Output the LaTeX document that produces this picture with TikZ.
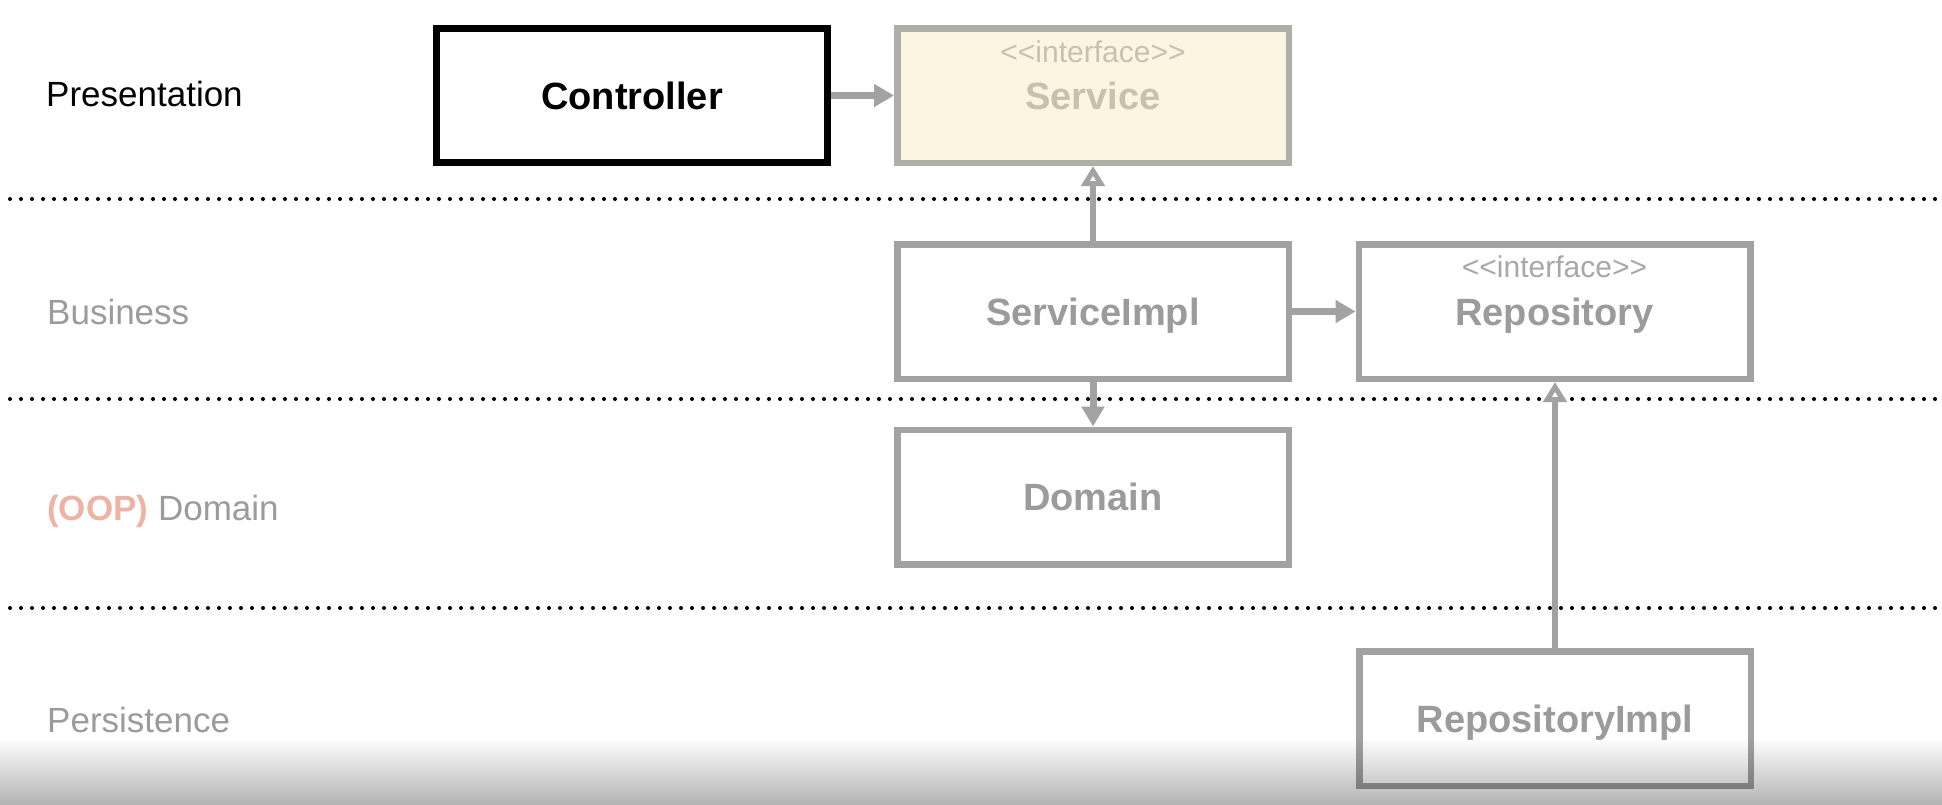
\documentclass[tikz,border=0pt]{standalone}
\usepackage{fontspec}
\setmainfont{Liberation Sans}
\usetikzlibrary{arrows.meta}

\definecolor{boxgray}{HTML}{A2A2A2}
\definecolor{txtgray}{HTML}{9B9B9B}
\definecolor{ifgray}{HTML}{A8A8A8}
\definecolor{svcfill}{HTML}{FCF5E2}
\definecolor{svcline}{HTML}{B0AEA8}
\definecolor{svctext}{HTML}{C8C1AE}
\definecolor{svcif}{HTML}{C6C1B3}
\definecolor{oop}{HTML}{EBB4A6}
\definecolor{fadegray}{HTML}{B4B4B4}

\tikzset{
  box/.style={draw=boxgray, fill=white, line width=6.5pt,
    minimum width=391.5pt, minimum height=134.5pt, inner sep=0pt,
    text=txtgray, text height=27pt, text depth=0pt,
    font=\fontsize{38}{40}\selectfont\bfseries},
  ifacelabel/.style={inner sep=0pt, text=ifgray,
    font=\fontsize{30}{32}\selectfont},
  layerlabel/.style={inner sep=0pt, anchor=base west, text=txtgray,
    font=\fontsize{35}{38}\selectfont},
  sepline/.style={line width=4pt, line cap=round,
    dash pattern=on 0pt off 11pt, black},
  usesarrow/.style={draw=boxgray, line width=7pt,
    -{Triangle[length=20pt, width=22pt]}},
  implarrow/.style={draw=boxgray, line width=5.5pt,
    -{Triangle[open, length=20pt, width=23pt, line width=5pt]}},
}

\begin{document}
\begin{tikzpicture}[x=1pt, y=-1pt]
  \useasboundingbox (0,0) rectangle (1942,804);
  \fill[white] (0,0) rectangle (1942,804);

  % layer separators
  \draw[sepline] (10,199) -- (1942,199);
  \draw[sepline] (10,399) -- (1942,399);
  \draw[sepline] (10,608) -- (1942,608);

  % layer names
  \node[layerlabel, text=black] (lpres) at (46,106.5) {Presentation};
  \node[layerlabel] (lbus) at (47,324.5) {Business};
  \node[layerlabel] (ldom) at (47,520.5)
    {{\bfseries\color{oop}(OOP)} Domain};
  \node[layerlabel] (lper) at (47,732.5) {Persistence};

  % components
  \node[box, draw=black, line width=7pt, text=black,
        minimum width=391pt, minimum height=134pt] (ctrl) at (632,95.5) {Controller};
  \node[box, fill=svcfill, draw=svcline, text=svctext] (svc) at (1093,95.5) {Service};
  \node[ifacelabel, text=svcif] (svcif) at ([yshift=-27pt]svc.north)
    {<\kern0pt<interface>\kern0pt>};

  \node[box] (svcimpl) at (1093,311.5) {ServiceImpl};
  \node[box] (repo) at (1554.5,311.5) {Repository};
  \node[ifacelabel] (repoif) at ([yshift=-26pt]repo.north)
    {<\kern0pt<interface>\kern0pt>};

  \node[box] (dom) at (1093,497) {Domain};
  \node[box] (repoimpl) at (1555,718.5) {RepositoryImpl};

  % dependencies
  \draw[usesarrow] (ctrl.east) -- (svc.west);
  \draw[usesarrow] (svcimpl.east) -- (repo.west);
  \draw[usesarrow] (svcimpl.south) -- (dom.north);

  % realisations
  \draw[implarrow] (svcimpl.north) -- (svc.south);
  \draw[implarrow] (repoimpl.north) -- (repoimpl.north |- repo.south);

  % darkening toward the lower edge
  \begin{scope}[blend mode=multiply]
    \shade[top color=white, bottom color=fadegray] (0,737) rectangle (1942,804);
  \end{scope}
\end{tikzpicture}
\end{document}
